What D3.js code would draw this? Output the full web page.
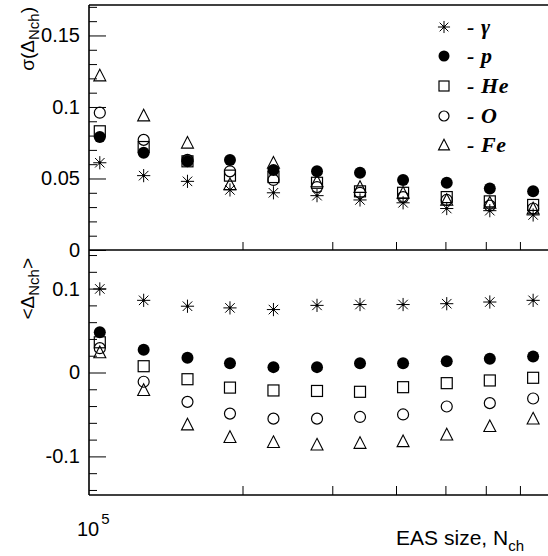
<!DOCTYPE html>
<html>
<head>
<meta charset="utf-8">
<script src="https://cdn.jsdelivr.net/npm/d3@7"></script>
<style>
  html, body { margin: 0; padding: 0; background: #fff; }
  svg { display: block; }
  .tick text { font-family: "Liberation Sans", Arial, sans-serif; font-size: 20px; fill: #000; }
</style>
</head>
<body>
<div id="chart"></div>
<script>
// EAS size bins (N_ch) and per-primary values
const nch = [1.05e5, 1.28e5, 1.56e5, 1.89e5, 2.30e5, 2.80e5, 3.40e5, 4.13e5, 5.03e5, 6.11e5, 7.43e5];

// sigma(Delta_Nch) -- top panel
const sigGamma = [0.061, 0.052, 0.048, 0.042, 0.040, 0.038, 0.035, 0.033, 0.029, 0.0275, 0.0245];
const sigP     = [0.079, 0.068, 0.062, 0.063, 0.056, 0.055, 0.054, 0.049, 0.047, 0.043, 0.041];
const sigHe    = [0.083, 0.072, 0.062, 0.052, 0.051, 0.047, 0.041, 0.040, 0.037, 0.034, 0.0315];
const sigO     = [0.096, 0.077, 0.063, 0.055, 0.049, 0.044, 0.040, 0.037, 0.035, 0.031, 0.029];
const sigFe    = [0.122, 0.094, 0.075, 0.046, 0.061, 0.048, 0.044, 0.040, 0.035, 0.033, 0.029];

// <Delta_Nch> -- bottom panel
const meanGamma = [0.0996, 0.086, 0.079, 0.077, 0.075, 0.080, 0.081, 0.081, 0.082, 0.084, 0.086];
const meanP     = [0.048, 0.027, 0.0175, 0.011, 0.0064, 0.0064, 0.011, 0.011, 0.0135, 0.0163, 0.019];
const meanHe    = [0.036, 0.0075, -0.008, -0.018, -0.0214, -0.022, -0.023, -0.0175, -0.0127, -0.0095, -0.0063];
const meanO     = [0.029, -0.011, -0.035, -0.049, -0.055, -0.055, -0.053, -0.050, -0.0405, -0.0365, -0.031];
const meanFe    = [0.024, -0.021, -0.062, -0.077, -0.083, -0.086, -0.084, -0.082, -0.074, -0.064, -0.055];

const species = ["gamma", "p", "He", "O", "Fe"];
const legendLabels = ["γ", "p", "He", "O", "Fe"];
const topTicks = [0, 0.05, 0.1, 0.15];
const botTicks = [-0.1, 0, 0.1];
const xTicks = [2e5, 3e5, 4e5, 5e5, 6e5, 7e5];

const W = 548, H = 556;
const left = 89, right = 549.5;
const topY0 = 5, midY = 250, botY1 = 495;

const svg = d3.select("#chart").append("svg").attr("width", W).attr("height", H);

const x = d3.scaleLog().domain([1e5, 8e5]).range([left, right]);
const yTop = d3.scaleLinear().domain([0, 0.1713]).range([midY, topY0]);
const yBot = d3.scaleLinear().domain([-0.146, 0.146]).range([botY1, midY]);

const minorTop = d3.range(0, 0.171, 0.01).map(v => +v.toFixed(3)).filter(v => !topTicks.includes(v));
const minorBot = d3.range(-0.14, 0.141, 0.02).map(v => +v.toFixed(3)).filter(v => !botTicks.includes(v));

function yAxis(scale, major, minor, fmt) {
  const g = svg.append("g").attr("transform", `translate(${left},0)`);
  g.append("g").call(d3.axisLeft(scale).tickValues(minor).tickSizeInner(-8).tickSizeOuter(0).tickFormat(""))
    .call(s => s.select(".domain").remove());
  g.append("g").call(d3.axisLeft(scale).tickValues(major).tickSizeInner(-17).tickSizeOuter(0).tickPadding(9).tickFormat(fmt))
    .call(s => s.select(".domain").remove());
  g.selectAll("line").attr("stroke", "#000").attr("stroke-width", 1);
}
const fmt = d => d === 0 ? "0" : String(d);
yAxis(yTop, topTicks, minorTop, fmt);
yAxis(yBot, botTicks, minorBot, fmt);

function xAxis(y, len) {
  svg.append("g").attr("transform", `translate(0,${y})`)
    .call(d3.axisBottom(x).tickValues(xTicks).tickSizeInner(-len).tickSizeOuter(0).tickFormat(""))
    .call(s => s.select(".domain").remove())
    .selectAll("line").attr("stroke", "#000");
}
xAxis(midY, 8);
xAxis(botY1, 9);

// frame lines
const frame = svg.append("g").attr("stroke", "#000").attr("stroke-width", 1.6).attr("fill", "none");
frame.append("path").attr("d", `M${left},${topY0}H${W}`);
frame.append("path").attr("d", `M${left},${topY0}V${botY1}`);
frame.append("path").attr("d", `M${left},${midY}H${W}`);
frame.append("path").attr("d", `M${left},${botY1}H${W}`);

// markers
function marker(g, kind, s) {
  const r = s / 2;
  if (kind === "gamma") {
    const R = r * 1.1, d = R * 0.72;
    g.append("path").attr("d", `M${-R},0H${R}M0,${-R}V${R}M${-d},${-d}L${d},${d}M${-d},${d}L${d},${-d}`)
      .attr("stroke", "#000").attr("stroke-width", 1).attr("fill", "none");
    g.append("circle").attr("r", 1.4).attr("fill", "#000");
  } else if (kind === "p") {
    g.append("circle").attr("r", r).attr("fill", "#000");
  } else if (kind === "He") {
    g.append("rect").attr("x", -r + 0.5).attr("y", -r + 0.5).attr("width", s - 1).attr("height", s - 1)
      .attr("fill", "none").attr("stroke", "#000").attr("stroke-width", 1.2);
  } else if (kind === "O") {
    g.append("circle").attr("r", r - 0.5).attr("fill", "none").attr("stroke", "#000").attr("stroke-width", 1.2);
  } else {
    const h = r * 1.05;
    g.append("path").attr("d", `M0,${-h}L${r},${h * 0.85}L${-r},${h * 0.85}Z`)
      .attr("fill", "none").attr("stroke", "#000").attr("stroke-width", 1.1);
  }
}

const topSeries = [sigGamma, sigP, sigHe, sigO, sigFe];
const botSeries = [meanGamma, meanP, meanHe, meanO, meanFe];

function drawSeries(series, yScale) {
  series.forEach((vals, k) => {
    svg.append("g").selectAll("g").data(vals).join("g")
      .attr("transform", (d, i) => `translate(${x(nch[i])},${yScale(d)})`)
      .each(function () { marker(d3.select(this), species[k], 12); });
  });
}
drawSeries(topSeries, yTop);
drawSeries(botSeries, yBot);

// legend
const legY = [27, 56, 86, 116, 145];
species.forEach((sp, k) => {
  const g = svg.append("g").attr("transform", `translate(444,${legY[k]})`);
  marker(g, sp, 11);
  svg.append("text").attr("x", 467).attr("y", legY[k] + 7)
    .attr("font-family", "'Liberation Serif', 'Times New Roman', serif")
    .attr("font-weight", "bold").attr("font-style", "italic").attr("font-size", 22)
    .attr("letter-spacing", 0.6)
    .text("- " + legendLabels[k]);
});

// axis titles
const sans = "'Liberation Sans', Arial, sans-serif";
const t1 = svg.append("text").attr("transform", "translate(34,7) rotate(-90)")
  .attr("text-anchor", "end").attr("font-family", sans).attr("font-size", 19);
t1.append("tspan").text("σ(Δ");
t1.append("tspan").attr("dy", 5).attr("font-size", 15).text("Nch");
t1.append("tspan").attr("dy", -5).text(")");

const t2 = svg.append("text").attr("transform", "translate(34,258) rotate(-90)")
  .attr("text-anchor", "end").attr("font-family", sans).attr("font-size", 19);
t2.append("tspan").text("<Δ");
t2.append("tspan").attr("dy", 5).attr("font-size", 15).text("Nch");
t2.append("tspan").attr("dy", -5).text(">");

const t3 = svg.append("text").attr("x", 77).attr("y", 536).attr("font-family", sans).attr("font-size", 20);
t3.append("tspan").text("10");
t3.append("tspan").attr("dy", -12).attr("dx", 2).attr("font-size", 15).text("5");

const t4 = svg.append("text").attr("x", 524).attr("y", 545).attr("text-anchor", "end")
  .attr("font-family", sans).attr("font-size", 21);
t4.append("tspan").text("EAS size, N");
t4.append("tspan").attr("dy", 6).attr("font-size", 15).text("ch");
</script>
</body>
</html>
